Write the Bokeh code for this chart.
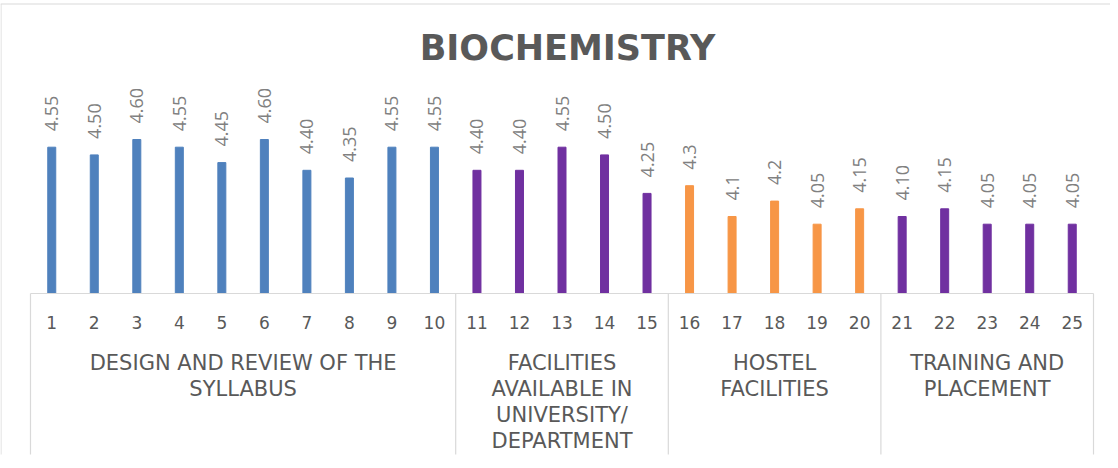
from math import pi
from itertools import accumulate

from bokeh.plotting import figure
from bokeh.models import Range1d, ColumnDataSource
from bokeh.core.properties import value
from bokeh.embed import file_html
from bokeh.resources import INLINE

# ---------------- data ----------------
title_text = "BIOCHEMISTRY"
items = [str(i) for i in range(1, 26)]
scores = [4.55, 4.50, 4.60, 4.55, 4.45, 4.60, 4.40, 4.35, 4.55, 4.55,
          4.40, 4.40, 4.55, 4.50, 4.25,
          4.30, 4.10, 4.20, 4.05, 4.15,
          4.10, 4.15, 4.05, 4.05, 4.05]
score_labels = ["4.55", "4.50", "4.60", "4.55", "4.45", "4.60", "4.40", "4.35", "4.55", "4.55",
                "4.40", "4.40", "4.55", "4.50", "4.25",
                "4.3", "4.1", "4.2", "4.05", "4.15",
                "4.10", "4.15", "4.05", "4.05", "4.05"]
group_lines = [["DESIGN AND REVIEW OF THE", "SYLLABUS"],
               ["FACILITIES", "AVAILABLE IN", "UNIVERSITY/", "DEPARTMENT"],
               ["HOSTEL", "FACILITIES"],
               ["TRAINING AND", "PLACEMENT"]]
group_sizes = [10, 5, 5, 5]
group_colors = ["#4F81BD", "#7030A0", "#F79646", "#7030A0"]

# ---------------- layout (pixels, figure space) ----------------
W, H = 1110, 460
PLOT_LEFT = 30          # left edge of plot area
SLOT = 42.52            # width of one category slot
BASE_PX = 293           # baseline (from top)
PX_PER_UNIT = 154.0
Y_MIN = 3.6
BAR_PX = 8
GRID = "#D9D9D9"
TEXT_DARK = "#595959"


def x_of(px):
    return 0.5 + (px - PLOT_LEFT) / SLOT


def y_of(py):
    return Y_MIN + (BASE_PX - py) / PX_PER_UNIT


p = figure(width=W, height=H, output_backend="svg", toolbar_location=None,
           x_range=Range1d(x_of(0), x_of(W)), y_range=Range1d(y_of(H), y_of(0)),
           x_axis_type=None, y_axis_type=None, min_border=0,
           background_fill_color="white", border_fill_color="white")
p.outline_line_color = None
p.grid.visible = False

n = len(items)
xs = list(range(1, n + 1))
bar_colors = []
for size, col in zip(group_sizes, group_colors):
    bar_colors += [col] * size

# outer chart border (left + top)
p.segment(x0=[x_of(0.5), x_of(0)], y0=[y_of(3.5), y_of(3.5)],
          x1=[x_of(0.5), x_of(W)], y1=[y_of(454), y_of(3.5)],
          line_color=GRID, line_width=1)

# bars
src = ColumnDataSource(dict(x=xs, top=scores, lab=score_labels, color=bar_colors))
p.vbar(x="x", top="top", bottom=Y_MIN, width=BAR_PX / SLOT, color="color", source=src)

# data labels (rotated)
p.text(x="x", y="top", text="lab", source=src, angle=pi / 2, y_offset=-16,
       text_align="left", text_baseline="middle",
       text_font=value("Open Sans"), text_font_size="18px", text_color="#808080")

# category axis line + group separators
bounds = [0.5] + [b + 0.5 for b in accumulate(group_sizes)]
p.segment(x0=[bounds[0]], y0=[Y_MIN], x1=[bounds[-1]], y1=[Y_MIN],
          line_color=GRID, line_width=1.2)
p.segment(x0=bounds, y0=[Y_MIN] * len(bounds), x1=bounds, y1=[y_of(454)] * len(bounds),
          line_color=GRID, line_width=1.2)

# tick labels
p.text(x=xs, y=[y_of(322)] * n, text=items, text_align="center", text_baseline="middle",
       text_font=value("DejaVu Sans"), text_font_size="17px", text_color=TEXT_DARK)

# group labels
gx, gy, gt = [], [], []
for i, lines in enumerate(group_lines):
    cx = (bounds[i] + bounds[i + 1]) / 2
    for k, line in enumerate(lines):
        gx.append(cx)
        gy.append(y_of(362 + k * 26.3))
        gt.append(line)
p.text(x=gx, y=gy, text=gt, text_align="center", text_baseline="middle",
       text_font=value("DejaVu Sans"), text_font_size="21px", text_color=TEXT_DARK)

# title
p.text(x=[x_of(567)], y=[y_of(47)], text=[title_text], text_align="center",
       text_baseline="middle", text_font=value("DejaVu Sans"), text_font_style="bold",
       text_font_size="35px", text_color=TEXT_DARK)

open("out.html", "w").write(file_html(p, INLINE))
